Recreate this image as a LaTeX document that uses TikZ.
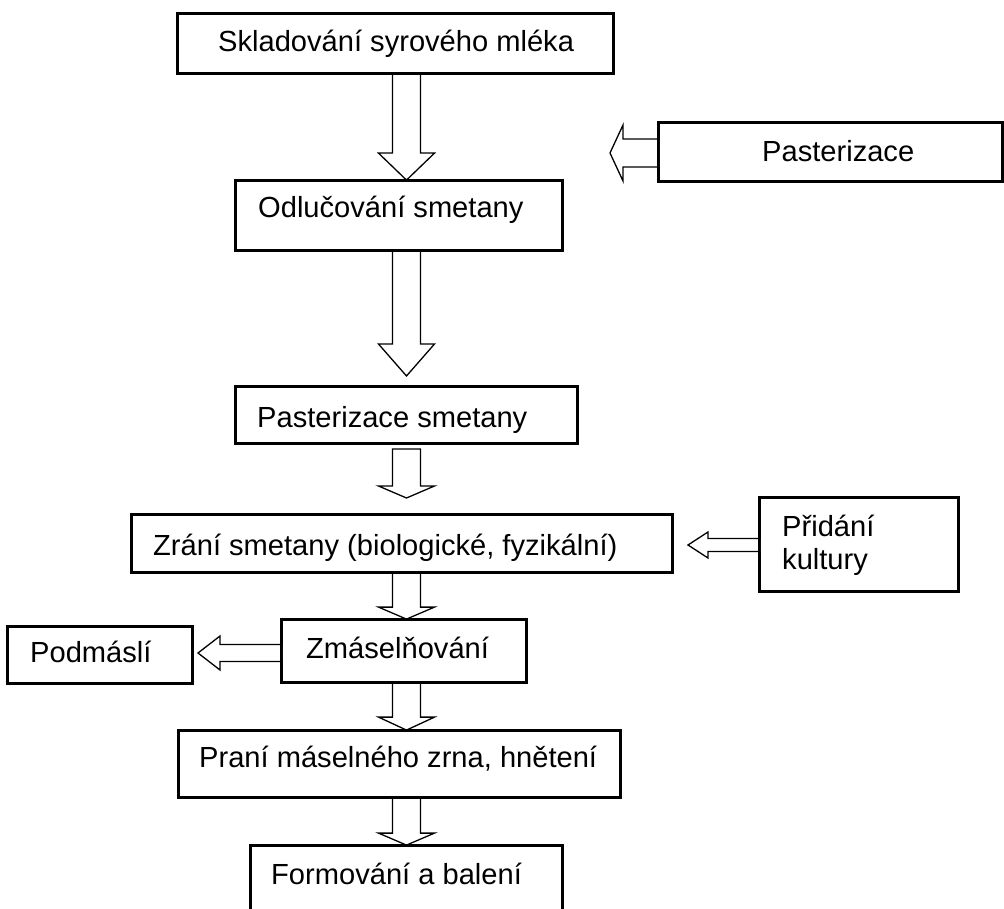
\documentclass[tikz,border=0pt]{standalone}
\usepackage{fontspec}
\setmainfont{Liberation Sans}
\usetikzlibrary{calc}
\tikzset{
  box/.style={draw=black, line width=1.8pt, inner sep=0pt},
  txt/.style={inner sep=0pt, anchor=base west, font=\fontsize{29.1}{33}\selectfont},
  blk/.style={draw=black, fill=white, line width=1.3pt, line join=miter}
}
\newcommand\vblk[3]{%
  \draw[blk] let \p1=(#1), \p2=(#2) in
    (\x1-14pt,\y1) -- (\x1-14pt,\y2+#3pt) -- (\x1-28pt,\y2+#3pt) -- (\x1,\y2)
    -- (\x1+28pt,\y2+#3pt) -- (\x1+14pt,\y2+#3pt) -- (\x1+14pt,\y1) -- cycle;}
\newcommand\hblk[5]{%
  \draw[blk] let \p1=(#1), \p2=(#2) in
    (\x1,\y1+#4pt) -- (\x2+#3pt,\y1+#4pt) -- (\x2+#3pt,\y1+#5pt) -- (\x2,\y1)
    -- (\x2+#3pt,\y1-#5pt) -- (\x2+#3pt,\y1-#4pt) -- (\x1,\y1-#4pt) -- cycle;}
\begin{document}
\begin{tikzpicture}[x=1pt,y=-1pt]
\clip (0,0) rectangle (1004,909);
\fill[white] (0,0) rectangle (1004,909);
% boxes (positions)
\path
  (395.5,43.5) node[box, minimum width=435pt, minimum height=59pt] (b1) {}
  (399,215.5)  node[box, minimum width=326pt, minimum height=69pt] (b2) {}
  (830.5,152)  node[box, minimum width=343pt, minimum height=58pt] (pa) {}
  (406.5,415)  node[box, minimum width=341pt, minimum height=56pt] (b3) {}
  (402,543.5)  node[box, minimum width=540pt, minimum height=57pt] (b4) {}
  (859,544.5)  node[box, minimum width=198pt, minimum height=93pt] (pk) {}
  (100,655)    node[box, minimum width=184pt, minimum height=56pt] (pd) {}
  (404,651)    node[box, minimum width=244pt, minimum height=62pt] (b5) {}
  (399.5,764)  node[box, minimum width=441pt, minimum height=66pt] (b6) {}
  (406.5,888)  node[box, minimum width=311pt, minimum height=84pt] (b7) {};
% arrow axis and free ends
\coordinate (ax) at (406.5,0);
\coordinate (a3top) at (406.5,449);
\coordinate (a3tip) at (406.5,498);
\coordinate (patip) at (610,153);
\coordinate (pastart) at (659,153);
\coordinate (pktip) at (688,545);
\coordinate (pkstart) at (760,545);
\coordinate (pdtip) at (198,653);
\coordinate (pdstart) at (282,653);
% block arrows
\vblk{ax |- b1.south}{ax |- b2.north}{27}
\vblk{ax |- b2.south}{406.5,376}{32}
\vblk{a3top}{a3tip}{12}
\vblk{ax |- b4.south}{ax |- b5.north}{12}
\vblk{ax |- b5.south}{ax |- b6.north}{13}
\vblk{ax |- b6.south}{ax |- b7.north}{12}
\hblk{pastart}{patip}{13}{14}{28}
\hblk{pkstart}{pktip}{20}{6.5}{13}
\hblk{pdstart}{pdtip}{22}{8.5}{17}
% redraw boxes on top
\foreach \n in {b1,b2,pa,b3,b4,pk,pd,b5,b6,b7}
  \draw[line width=1.8pt] (\n.north west) rectangle (\n.south east);
% texts
\node[txt] (t1) at (218,52) {Skladování syrového mléka};
\node[txt] (t2) at (258,218) {Odlučování smetany};
\node[txt] (tpa) at (762,162) {Pasterizace};
\node[txt] (t3) at (257,427) {Pasterizace smetany};
\node[txt] (t4) at (153,555) {Zrání smetany (biologické, fyzikální)};
\node[txt] (tpk1) at (782,536) {Přidání};
\node[txt] (tpk2) at (782,569) {kultury};
\node[txt] (tpd) at (30,662) {Podmáslí};
\node[txt] (t5) at (306,658) {Zmáselňování};
\node[txt] (t6) at (199,767) {Praní máselného zrna, hnětení};
\node[txt] (t7) at (271,884) {Formování a balení};
\end{tikzpicture}
\end{document}
